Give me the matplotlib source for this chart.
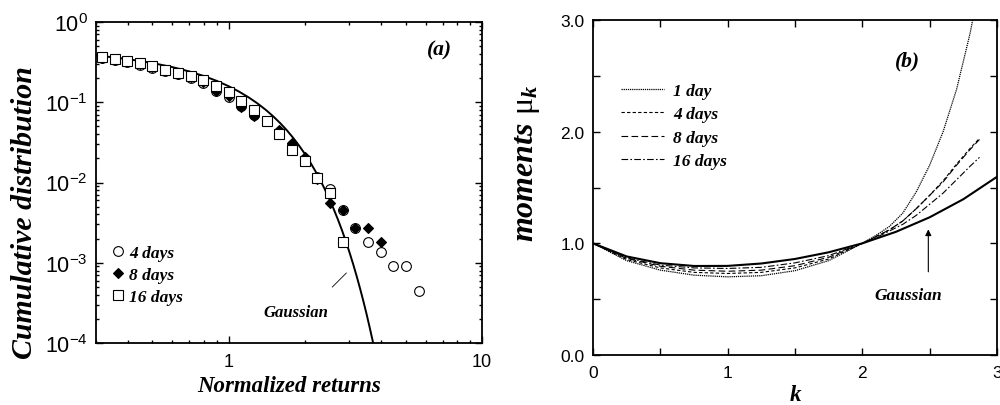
import matplotlib
matplotlib.use("Agg")
import matplotlib.pyplot as plt
from matplotlib.ticker import LogLocator, FixedLocator, NullFormatter, LogFormatterSciNotation, FixedFormatter

plt.rcParams['font.family'] = ['Liberation Sans', 'DejaVu Sans']
plt.rcParams['mathtext.fontset'] = 'custom'
plt.rcParams['mathtext.rm'] = 'Liberation Serif'
plt.rcParams['mathtext.it'] = 'Liberation Serif:italic:bold'
plt.rcParams['mathtext.bf'] = 'Liberation Serif:bold'

# ---------------- Panel (a) data ----------------
x4 = [0.316, 0.355, 0.398, 0.447, 0.501, 0.562, 0.631, 0.708, 0.794, 0.891, 1.0, 1.122, 1.259,
      1.413, 1.585, 1.778, 1.995, 2.239, 2.512, 2.818, 3.162, 3.548, 3.981, 4.467, 5.012, 5.623]
y4 = [0.36, 0.34, 0.32, 0.295, 0.27, 0.245, 0.222, 0.200, 0.173, 0.138, 0.117, 0.090, 0.070,
      0.058, 0.043, 0.029, 0.0195, 0.0116, 0.0083, 0.0046, 0.0027, 0.0018, 0.00135, 0.0009, 0.0009, 0.00045]

x8 = [0.316, 0.355, 0.398, 0.447, 0.501, 0.562, 0.631, 0.708, 0.794, 0.891, 1.0, 1.122, 1.259,
      1.413, 1.585, 1.778, 1.995, 2.239, 2.512, 2.818, 3.162, 3.548, 3.981]
y8 = [0.36, 0.34, 0.325, 0.30, 0.275, 0.25, 0.227, 0.205, 0.177, 0.140, 0.121, 0.088, 0.068,
      0.058, 0.045, 0.031, 0.0206, 0.0112, 0.0055, 0.0046, 0.0027, 0.0027, 0.0018]

x16 = [0.316, 0.355, 0.398, 0.447, 0.501, 0.562, 0.631, 0.708, 0.794, 0.891, 1.0, 1.122, 1.259,
       1.413, 1.585, 1.778, 1.995, 2.239, 2.512, 2.818]
y16 = [0.37, 0.35, 0.33, 0.305, 0.28, 0.255, 0.232, 0.212, 0.191, 0.161, 0.133, 0.105, 0.080,
       0.058, 0.040, 0.0256, 0.0184, 0.0114, 0.0074, 0.00183]

# Gaussian tail values
xg = [0.30, 0.35, 0.40, 0.50, 0.60, 0.70, 0.80, 0.90, 1.0, 1.1, 1.2, 1.3, 1.4, 1.5, 1.6, 1.7,
      1.8, 1.9, 2.0, 2.1, 2.2, 2.3, 2.4, 2.5, 2.6, 2.7, 2.8, 2.9, 3.0, 3.1, 3.2, 3.3, 3.4,
      3.5, 3.6, 3.7, 3.8]
yg = [0.3821, 0.3632, 0.3446, 0.3085, 0.2743, 0.2420, 0.2119, 0.1841, 0.1587, 0.1357, 0.1151,
      0.0968, 0.0808, 0.0668, 0.0548, 0.0446, 0.0359, 0.0287, 0.02275, 0.01786, 0.01390,
      0.01072, 0.00820, 0.00621, 0.00466, 0.00347, 0.00256, 0.00187, 0.00135, 0.000968,
      0.000687, 0.000483, 0.000337, 0.000233, 0.000159, 0.000108, 0.0000723]

# ---------------- Panel (b) data ----------------
k_all = [0, 0.25, 0.5, 0.75, 1.0, 1.25, 1.5, 1.75, 2.0, 2.1, 2.2, 2.3, 2.4, 2.5, 2.6, 2.7, 2.8, 2.9]
mu_1 = [1.0, 0.845, 0.76, 0.715, 0.70, 0.71, 0.755, 0.845, 1.0, 1.07, 1.15, 1.27, 1.46, 1.70,
        2.00, 2.38, 2.88, 3.5]
k_d = [0, 0.25, 0.5, 0.75, 1.0, 1.25, 1.5, 1.75, 2.0, 2.1, 2.2, 2.3, 2.4, 2.5, 2.6, 2.7, 2.8, 2.87]
mu_4 = [1.0, 0.855, 0.78, 0.74, 0.73, 0.74, 0.78, 0.86, 1.0, 1.06, 1.12, 1.20, 1.31, 1.43,
        1.56, 1.71, 1.85, 1.94]
mu_8 = [1.0, 0.865, 0.795, 0.76, 0.75, 0.76, 0.80, 0.875, 1.0, 1.06, 1.12, 1.20, 1.31, 1.43,
        1.55, 1.70, 1.84, 1.93]
mu_16 = [1.0, 0.87, 0.805, 0.78, 0.775, 0.785, 0.825, 0.89, 1.0, 1.05, 1.11, 1.17, 1.25, 1.35,
         1.45, 1.57, 1.69, 1.77]
k_g = [0, 0.25, 0.5, 0.75, 1.0, 1.25, 1.5, 1.75, 2.0, 2.25, 2.5, 2.75, 3.0]
mu_g = [1.0, 0.8826, 0.8222, 0.7972, 0.7979, 0.8194, 0.8600, 0.9198, 1.0, 1.1033, 1.2333,
        1.3951, 1.5958]

serif = dict(family='Liberation Serif', weight='bold', style='italic')

fig = plt.figure(figsize=(10, 4.06), dpi=100)
W, H = 1000, 406
axa = fig.add_axes([96 / W, (H - 344) / H, (482 - 96) / W, (344 - 23) / H])
axb = fig.add_axes([593 / W, (H - 356) / H, (997 - 593) / W, (356 - 21) / H])

for ax in (axa, axb):
    for s in ax.spines.values():
        s.set_linewidth(1.3)
    ax.tick_params(which='both', direction='in', top=True, right=True, width=1.0,
                   labelsize=12.5, colors='black')
    ax.tick_params(which='major', length=5)
    ax.tick_params(which='minor', length=2.5)

# ---- panel (a)
axa.set_xscale('log')
axa.set_yscale('log')
axa.set_xlim(0.3, 10)
axa.set_ylim(1e-4, 1)
axa.plot(xg, yg, color='black', lw=1.4, zorder=2)
axa.plot(x4, y4, 'o', ms=7, mfc='white', mec='black', mew=0.8, ls='none', label='4 days', zorder=3)
axa.plot(x8, y8, 'D', ms=5.5, mfc='black', mec='black', mew=0.8, ls='none', label='8 days', zorder=4)
axa.plot(x16, y16, 's', ms=6.5, mfc='white', mec='black', mew=0.8, ls='none', label='16 days', zorder=5)
axa.set_xticks([1, 10])
axa.set_xticklabels(['1', '10'])
axa.xaxis.set_minor_locator(LogLocator(base=10, subs=range(2, 10)))
axa.xaxis.set_minor_formatter(NullFormatter())
axa.yaxis.set_major_locator(LogLocator(base=10, numticks=10))
axa.yaxis.set_minor_locator(LogLocator(base=10, subs=range(2, 10), numticks=20))
axa.yaxis.set_major_formatter(LogFormatterSciNotation())
axa.yaxis.set_minor_formatter(NullFormatter())
axa.tick_params(axis='x', pad=7, labelsize=13)
axa.tick_params(axis='y', pad=6, labelsize=15.5)
axa.set_xlabel('Normalized returns', fontsize=16.5, labelpad=4, **serif)
axa.set_ylabel('Cumulative distribution', fontsize=21.5, **serif)
axa.yaxis.set_label_coords(-0.15, 0.41)
axa.text(0.89, 0.915, '(a)', transform=axa.transAxes, fontsize=15.5, ha='center', va='center', **serif)
axa.annotate('', xy=(2.97, 7.9e-4), xytext=(2.52, 4.7e-4),
             arrowprops=dict(arrowstyle='-', color='black', lw=0.6))
axa.text(1.84, 2.45e-4, 'Gaussian', fontsize=12, ha='center', va='center', **serif)
axa.legend(loc='center left', bbox_to_anchor=(0.036, 0.212), frameon=False,
           prop=dict(size=12.5, **serif), handlelength=0.9, handletextpad=0.2,
           labelspacing=0.32, borderpad=0, borderaxespad=0)

# ---- panel (b)
axb.set_xlim(0, 3)
axb.set_ylim(0, 3)
axb.plot(k_g, mu_g, color='black', lw=1.5, zorder=3)
axb.plot(k_all, mu_1, color='black', lw=0.9, ls=(0, (1, 0.7)), label='1 day')
axb.plot(k_d, mu_4, color='black', lw=0.8, ls=(0, (3, 2)), label='4 days')
axb.plot(k_d, mu_8, color='black', lw=0.8, ls=(0, (6, 3)), label='8 days')
axb.plot(k_d, mu_16, color='black', lw=0.8, ls=(0, (6, 2, 1.5, 2)), label='16 days')
axb.xaxis.set_major_locator(FixedLocator([0, 1, 2, 3]))
axb.xaxis.set_major_formatter(FixedFormatter(['0', '1', '2', '3']))
axb.xaxis.set_minor_locator(FixedLocator([0.5, 1.5, 2.5]))
axb.yaxis.set_major_locator(FixedLocator([0, 1, 2, 3]))
axb.yaxis.set_major_formatter(FixedFormatter(['0.0', '1.0', '2.0', '3.0']))
axb.yaxis.set_minor_locator(FixedLocator([0.5, 1.5, 2.5]))
axb.tick_params(which='minor', length=5)
axb.tick_params(axis='x', pad=7)
axb.tick_params(axis='y', pad=6)
axb.set_xlabel('k', fontsize=16.5, labelpad=3, **serif)
axb.set_ylabel(r'moments $\mathrm{\mu}_{k}$', fontsize=23, **serif)
axb.yaxis.set_label_coords(-0.125, 0.575)
axb.text(0.779, 0.88, '(b)', transform=axb.transAxes, fontsize=15.5, ha='center', va='center', **serif)
axb.annotate('', xy=(2.49, 1.15), xytext=(2.49, 0.72),
             arrowprops=dict(arrowstyle='-|>', color='black', lw=0.8, mutation_scale=9))
axb.text(2.34, 0.54, 'Gaussian', fontsize=12.5, ha='center', va='center', **serif)
axb.legend(loc='center left', bbox_to_anchor=(0.069, 0.684), frameon=False,
           prop=dict(size=12.5, **serif), handlelength=2.5, handletextpad=0.5,
           labelspacing=0.42, borderpad=0, borderaxespad=0)

fig.savefig('out.png', dpi=100)
